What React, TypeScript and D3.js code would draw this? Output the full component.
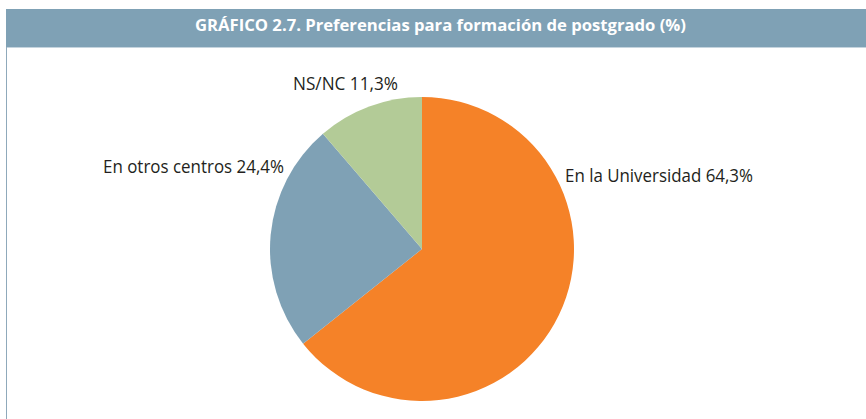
import { useMemo } from 'react';
import * as d3 from 'd3';

// Chart data (%), clockwise from 12 o'clock
const categories = ['En la Universidad', 'En otros centros', 'NS/NC'];
const values = [64.3, 24.4, 11.3];
const valueLabels = ['64,3%', '24,4%', '11,3%'];

const TITLE = 'GRÁFICO 2.7. Preferencias para formación de postgrado (%)';

const SLICE_COLORS = ['#f58228', '#7fa1b5', '#b3cb97'];
const HEADER_COLOR = '#7fa1b5';
const TEXT_COLOR = '#231f20';

const WIDTH = 866;
const HEIGHT = 419;
const FONT = '"Open Sans", "Noto Sans", sans-serif';

// label placement (text anchor point + measured width of the original type)
const labelLayout = [
  { x: 565, y: 182, w: 188 },
  { x: 103, y: 173, w: 181 },
  { x: 293, y: 90, w: 105 },
];

export default function App() {
  const cx = 422;
  const cy = 249;
  const radius = 152;

  const arcs = useMemo(() => {
    const pie = d3.pie<number>().sort(null).value(d => d).startAngle(0).endAngle(2 * Math.PI);
    return pie(values);
  }, []);

  const arcGen = d3.arc<d3.PieArcDatum<number>>().innerRadius(0).outerRadius(radius);

  return (
    <svg
      width={WIDTH}
      height={HEIGHT}
      viewBox={`0 0 ${WIDTH} ${HEIGHT}`}
      style={{ position: 'absolute', left: 0, top: 0, display: 'block', background: '#fff' }}
    >
      {/* header band */}
      <rect x={6} y={9} width={WIDTH - 6} height={38} fill={HEADER_COLOR} />
      <line x1={6} x2={WIDTH} y1={47.5} y2={47.5} stroke="#c5d4de" strokeWidth={1} />
      {/* left frame line */}
      <line x1={6.5} x2={6.5} y1={47} y2={HEIGHT} stroke="#8fa9bb" strokeWidth={1} />
      <text
        x={195}
        y={31}
        fill="#ffffff"
        fontFamily={FONT}
        fontWeight={700}
        fontSize={16}
        textLength={491}
        lengthAdjust="spacingAndGlyphs"
      >
        {TITLE}
      </text>

      {/* pie */}
      <g transform={`translate(${cx},${cy})`}>
        {arcs.map((a, i) => (
          <path key={categories[i]} d={arcGen(a) ?? ''} fill={SLICE_COLORS[i]} />
        ))}
      </g>

      {/* labels */}
      {categories.map((c, i) => (
        <text
          key={c}
          x={labelLayout[i].x}
          y={labelLayout[i].y}
          fill={TEXT_COLOR}
          fontFamily={FONT}
          fontSize={18}
          textLength={labelLayout[i].w}
          lengthAdjust="spacingAndGlyphs"
        >
          {`${c} ${valueLabels[i]}`}
        </text>
      ))}
    </svg>
  );
}
